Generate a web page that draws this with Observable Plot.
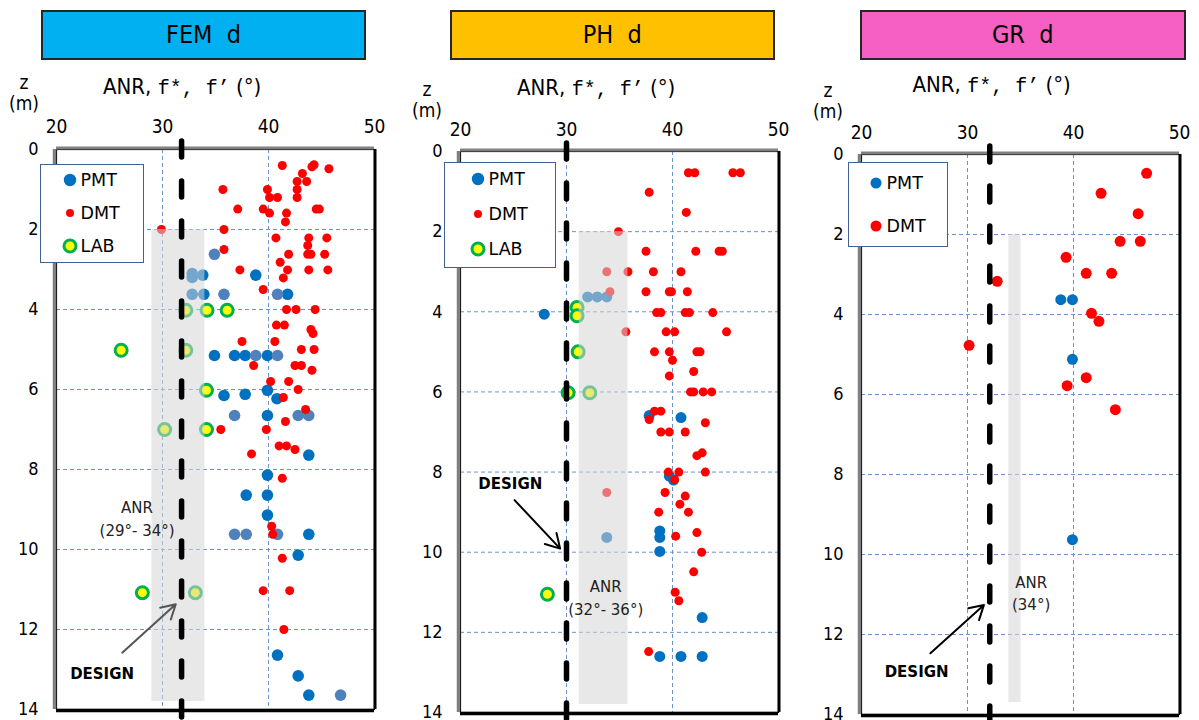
<!DOCTYPE html>
<html>
<head>
<meta charset="utf-8">
<script src="https://cdn.jsdelivr.net/npm/d3@7"></script>
<script src="https://cdn.jsdelivr.net/npm/@observablehq/plot@0.6"></script>
<style>
  html, body { margin: 0; padding: 0; background: #fff; }
  body { width: 1199px; height: 720px; overflow: hidden; position: relative;
         font-family: "DejaVu Sans Condensed", "DejaVu Sans", sans-serif; color: #000; }
  .title { position: absolute; box-sizing: border-box; border: 2px solid #262626;
           display: flex; align-items: center; justify-content: center;
           font-size: 25px; white-space: pre; }
  .xlab { position: absolute; font-size: 22px; line-height: 26px; white-space: pre; }
  .xlab .mono { font-family: "Liberation Mono", "DejaVu Sans Mono", monospace; font-size: 20px; }
  .zlab { position: absolute; width: 44px; text-align: center; font-size: 19px; line-height: 21px; }
  .legend { position: absolute; box-sizing: border-box; background: #fff;
            border: 1.5px solid #41618f; font-family: "DejaVu Sans", sans-serif; font-size: 17.5px; }
  .legend span { position: absolute; line-height: 22px; white-space: pre; }
  .legend svg { position: absolute; }
</style>
</head>
<body>
<script>
// ---------------- data ----------------
const xTicks = [20, 30, 40, 50];
const zTicks = [0, 2, 4, 6, 8, 10, 12, 14];
const xGrid = [30, 40];
const zGrid = [2, 4, 6, 8, 10, 12];

const panelNames = ["FEM  d", "PH  d", "GR  d"];
const xTitleParts = ["ANR, ", "f*, f’", " (°)"];
const zTitleLines = ["z", "(m)"];

const designPhi = [31.8, 30.0, 32.1];
const anrLow = [29.0, 31.2, 33.9];
const anrHigh = [34.0, 35.8, 35.05];
const anrTopZ = [2.0, 2.0, 2.0];
const anrBottomZ = [13.8, 13.8, 13.7];
const anrText = ["ANR\n(29°- 34°)", "ANR\n(32°- 36°)", "ANR\n(34°)"];
const anrTextX = [27.6, 33.7, 36.0];
const anrTextZ = [9.2, 11.1, 10.93];
const designText = "DESIGN";
const designTextX = [24.3, 24.7, 25.2];
const designTextZ = [13.12, 8.3, 12.94];
const arrowFromX = [26.2, 25.1, 26.5];
const arrowFromZ = [12.58, 8.7, 12.47];
const arrowToX = [31.25, 29.4, 31.55];
const arrowToZ = [11.37, 9.91, 11.26];
const legendNames = [["PMT", "DMT", "LAB"], ["PMT", "DMT", "LAB"], ["PMT", "DMT"]];

// FEM d  [phi (deg), z (m)]
const femPMT = [[32.8,3.1],[32.8,3.2],[33.8,3.14],[38.8,3.14],[32.8,3.62],[33.9,3.62],[41.8,3.62],
  [34.9,5.15],[36.8,5.15],[37.8,5.15],[39.9,5.15],[39.9,6.02],[35.8,6.15],[37.8,6.12],[40.8,6.23],
  [39.9,6.65],[43.8,7.64],[39.9,8.14],[37.9,8.64],[39.9,8.64],[39.9,9.14],[43.8,9.62],[42.8,10.14],
  [40.85,12.64],[42.8,13.16],[43.8,13.64]];
const femPMT2 = [[34.9,2.62],[35.8,3.62],[40.85,3.62],[38.8,5.15],[40.85,5.15],[36.8,6.65],[42.8,6.65],
  [43.8,6.65],[36.8,9.62],[37.9,9.62],[40.85,9.62],[46.8,13.64]];
const femDMT = [[41.3,0.40],[44.1,0.43],[44.3,0.38],[45.7,0.48],[43.2,0.60],[42.7,0.80],[43.6,0.80],
  [35.7,1.0],[39.9,1.0],[42.7,1.0],[40.1,1.2],[40.85,1.2],[42.7,1.2],[37.1,1.49],[39.5,1.49],[40.1,1.59],
  [41.7,1.59],[44.5,1.49],[44.8,1.49],[41.6,1.81],[29.9,2.0],[35.8,2.0],[40.7,2.21],[43.8,2.21],[45.5,2.21],
  [35.8,2.5],[43.7,2.40],[41.9,2.62],[43.7,2.62],[44.0,2.62],[45.3,2.62],[41.1,2.82],[37.3,3.01],[41.8,3.01],
  [43.8,3.01],[45.6,3.01],[41.4,3.21],[39.5,3.50],[41.7,4.0],[42.6,4.0],[44.4,4.0],[40.75,4.39],[41.5,4.39],
  [44.0,4.5],[44.2,4.6],[37.5,4.8],[40.6,4.8],[43.1,5.0],[44.3,5.0],[38.6,5.4],[42.5,5.4],[43.1,5.4],
  [44.1,5.52],[40.2,5.8],[41.9,5.8],[42.8,6.0],[41.4,6.2],[43.5,6.5],[41.6,6.8],[35.5,7.0],[39.8,7.0],
  [41.0,7.41],[41.7,7.41],[42.5,7.5],[38.4,7.61],[41.3,8.22],[40.3,9.42],[40.4,9.62],[41.3,10.22],
  [39.5,11.03],[42.0,11.03],[41.45,12.0]];
const femLAB = [[32.2,4.02],[34.2,4.02],[36.1,4.02],[26.1,5.02],[32.2,5.02],[34.15,6.02],[30.2,7.0],
  [34.15,7.0],[28.1,11.08],[33.1,11.08]];

// PH d
const phPMT = [[27.9,4.06],[32.0,3.63],[32.9,3.63],[33.8,3.63],[37.8,6.59],[40.8,6.64],[39.7,8.1],[40.1,8.2],
  [33.8,9.63],[38.8,9.47],[38.8,9.63],[38.8,9.98],[42.8,11.63],[38.8,12.6],[40.8,12.6],[42.8,12.6]];
const phDMT = [[41.5,0.53],[42.1,0.53],[45.7,0.53],[46.4,0.53],[37.8,1.02],[41.3,1.52],[34.9,2.0],
  [37.5,2.49],[42.2,2.49],[44.4,2.49],[44.7,2.49],[33.8,3.0],[35.8,3.0],[38.2,3.0],[40.8,3.0],[34.1,3.5],
  [37.5,3.5],[39.7,3.5],[39.9,3.5],[41.4,3.5],[38.5,4.02],[38.9,4.02],[41.2,4.02],[41.6,4.02],[43.8,4.02],
  [35.6,4.5],[39.4,4.5],[40.2,4.5],[45.1,4.5],[38.3,5.0],[39.7,5.0],[42.3,5.0],[42.6,5.0],[40.0,5.21],
  [42.0,5.49],[39.7,5.6],[41.7,6.0],[42.0,6.0],[42.9,6.0],[43.7,6.0],[38.3,6.48],[38.9,6.48],[37.8,6.69],
  [43.1,6.77],[38.9,7.0],[39.7,7.0],[41.2,7.0],[42.3,7.59],[42.8,7.52],[39.6,8.0],[40.6,8.0],[43.1,8.0],
  [40.2,8.19],[39.3,8.51],[41.2,8.6],[40.7,8.8],[41.5,9.0],[38.7,9.0],[33.8,8.51],[40.3,9.6],[42.3,9.51],
  [42.75,10.0],[42.0,10.49],[40.25,11.0],[40.6,11.21],[37.75,12.48]];
const phLAB = [[31.0,3.89],[31.0,4.1],[31.1,5.0],[30.15,6.02],[32.2,6.02],[28.2,11.05]];

// GR d
const grPMT = [[38.8,3.63],[39.9,3.63],[39.9,5.12],[39.9,9.63]];
const grDMT = [[46.9,0.47],[42.6,0.97],[46.1,1.48],[44.4,2.17],[46.3,2.17],[39.3,2.57],[41.2,2.97],
  [43.6,2.97],[32.8,3.17],[41.7,3.97],[42.4,4.17],[30.15,4.77],[41.2,5.58],[39.4,5.78],[43.95,6.38]];

// ---------------- layout & styles ----------------
const layout = [
  {left: 55.7, top: 149.3, h: 560, title: [41, 10, 325, 49.5], xLab: [103, 74], zLab: [24, 72],
   legend: [40, 164, 104, 99], legRows: [180, 213, 246], dotX: 70, textX: 81,
   r: {PMT: 5.8, PMT2: 5.8, DMT: 4.5, LAB: 6}, legR: {PMT: 6.2, DMT: 4, LAB: 6}, arrow: "#555"},
  {left: 459.5, top: 151, h: 561, title: [449.7, 10, 325.3, 49.5], xLab: [517, 75], zLab: [427, 79],
   legend: [444, 162, 112, 106], legRows: [179, 214, 249], dotX: 478, textX: 489,
   r: {PMT: 5.5, PMT2: 5.5, DMT: 4.5, LAB: 6}, legR: {PMT: 6.2, DMT: 4, LAB: 6}, arrow: "#000"},
  {left: 860.5, top: 154, h: 560, title: [859.7, 10, 326, 49.5], xLab: [912.5, 72], zLab: [828, 80],
   legend: [848, 162, 100, 85], legRows: [183, 226], dotX: 876, textX: 887,
   r: {PMT: 5.5, PMT2: 5.5, DMT: 5.5, LAB: 6}, legR: {PMT: 5.5, DMT: 5.5, LAB: 6}, arrow: "#000"}
];
const titleColors = ["#00b0f0", "#ffc000", "#f65fc3"];
const colors = {PMT: "#0070c0", PMT2: "#4f81bd", DMT: "#ff0000", LABfill: "#ffff00", LABstroke: "#00b050"};
const series = [
  {PMT: femPMT, PMT2: femPMT2, DMT: femDMT, LAB: femLAB},
  {PMT: phPMT, PMT2: [], DMT: phDMT, LAB: phLAB},
  {PMT: grPMT, PMT2: [], DMT: grDMT, LAB: []}
];

const rows = arr => arr.map(([x, z]) => ({x, z}));

function makePanel(i) {
  const L = layout[i];
  const S = series[i];
  const mL = 50, mR = 12, mT = 40, W = 318;
  const mB = Math.max(4, 720 - (L.top + L.h));
  const z0 = zTicks[0], z1 = zTicks[zTicks.length - 1];
  const x0 = xTicks[0], x1 = xTicks[xTicks.length - 1];
  const gridStyle = {stroke: "#6a93cc", strokeOpacity: 1, strokeWidth: 1, strokeDasharray: "4,3"};

  const chart = Plot.plot({
    width: mL + W + mR,
    height: mT + L.h + mB,
    marginLeft: mL, marginRight: mR, marginTop: mT, marginBottom: mB,
    style: {background: "transparent", fontFamily: "'DejaVu Sans Condensed', 'DejaVu Sans', sans-serif",
            fontSize: "18px", overflow: "visible", color: "#000"},
    x: {domain: [x0, x1]},
    y: {domain: [z0, z1], reverse: true},
    marks: [
      Plot.gridX(xGrid, gridStyle),
      Plot.gridY(zGrid, gridStyle),
      Plot.dot(rows(S.PMT), {x: "x", y: "z", r: L.r.PMT, fill: colors.PMT}),
      Plot.dot(rows(S.PMT2), {x: "x", y: "z", r: L.r.PMT2, fill: colors.PMT2}),
      Plot.dot(rows(S.DMT), {x: "x", y: "z", r: L.r.DMT, fill: colors.DMT}),
      Plot.dot(rows(S.LAB), {x: "x", y: "z", r: L.r.LAB, fill: colors.LABfill, stroke: colors.LABstroke, strokeWidth: 3}),
      Plot.rect([{lo: anrLow[i], hi: anrHigh[i], top: anrTopZ[i], bot: anrBottomZ[i]}],
        {x1: "lo", x2: "hi", y1: "top", y2: "bot", fill: "#d6d6d6", fillOpacity: 0.55}),
      // frame with shaded (gray) left/top and heavy right/bottom edges
      Plot.frame({stroke: "#000", strokeWidth: 1.2}),
      Plot.ruleX([x0], {stroke: "#808080", strokeWidth: 3.5, dx: -2}),
      Plot.ruleY([z0], {stroke: "#808080", strokeWidth: 3, dy: -1.5}),
      Plot.ruleX([x1], {stroke: "#000", strokeWidth: 3, dx: 0.5}),
      Plot.ruleY([z1], {stroke: "#000", strokeWidth: 3.5, dy: 1}),
      // design value
      Plot.ruleX([{x: designPhi[i], a: z0 - 0.2, b: z1 + 0.6}],
        {x: "x", y1: "a", y2: "b", stroke: "#000", strokeWidth: 5.5, strokeDasharray: "16,24", strokeLinecap: "round"}),
      Plot.axisX(xTicks, {anchor: "top", tickSize: 0, tickPadding: 16, fontSize: 19, label: null}),
      Plot.axisY(zTicks, {anchor: "left", tickSize: 0, tickPadding: 18, fontSize: 18, label: null}),
      Plot.text([{x: anrTextX[i], z: anrTextZ[i], t: anrText[i]}],
        {x: "x", y: "z", text: "t", fontSize: 15, lineHeight: 1.5, fontFamily: "'DejaVu Sans', sans-serif", fill: "#222"}),
      Plot.text([{x: designTextX[i], z: designTextZ[i], t: designText}],
        {x: "x", y: "z", text: "t", fontSize: 15, fontWeight: "bold", fontFamily: "'DejaVu Sans', sans-serif"}),
      Plot.arrow([{ax: arrowFromX[i], az: arrowFromZ[i], bx: arrowToX[i], bz: arrowToZ[i]}],
        {x1: "ax", y1: "az", x2: "bx", y2: "bz", stroke: L.arrow, strokeWidth: 2, headLength: 12})
    ]
  });
  Object.assign(chart.style, {position: "absolute", left: (L.left - mL) + "px", top: (L.top - mT) + "px"});
  document.body.appendChild(chart);

  // title box
  const t = document.createElement("div");
  t.className = "title";
  Object.assign(t.style, {left: L.title[0] + "px", top: L.title[1] + "px", width: L.title[2] + "px",
    height: L.title[3] + "px", background: titleColors[i]});
  t.textContent = panelNames[i];
  document.body.appendChild(t);

  // x title
  const xl = document.createElement("div");
  xl.className = "xlab";
  Object.assign(xl.style, {left: L.xLab[0] + "px", top: L.xLab[1] + "px"});
  xl.innerHTML = `<span>${xTitleParts[0]}</span><span class="mono">${xTitleParts[1]}</span><span>${xTitleParts[2]}</span>`;
  document.body.appendChild(xl);

  // z title
  const zl = document.createElement("div");
  zl.className = "zlab";
  Object.assign(zl.style, {left: (L.zLab[0] - 22) + "px", top: L.zLab[1] + "px"});
  zl.innerHTML = zTitleLines.join("<br>");
  document.body.appendChild(zl);

  // legend
  const lg = document.createElement("div");
  lg.className = "legend";
  Object.assign(lg.style, {left: L.legend[0] + "px", top: L.legend[1] + "px",
    width: L.legend[2] + "px", height: L.legend[3] + "px"});
  legendNames[i].forEach((name, k) => {
    const y = L.legRows[k] - L.legend[1] - 1.5;
    const cx = L.dotX - L.legend[0] - 1.5;
    const r = L.legR[name];
    const fill = name === "LAB" ? colors.LABfill : colors[name];
    const stroke = name === "LAB" ? colors.LABstroke : "none";
    const sw = name === "LAB" ? 3 : 0;
    lg.insertAdjacentHTML("beforeend",
      `<svg width="20" height="20" style="left:${cx - 10}px;top:${y - 10}px"><circle cx="10" cy="10" r="${r}" fill="${fill}" stroke="${stroke}" stroke-width="${sw}"/></svg>` +
      `<span style="left:${L.textX - L.legend[0] - 1.5}px;top:${y - 11}px">${name}</span>`);
  });
  document.body.appendChild(lg);
}

[0, 1, 2].forEach(makePanel);
</script>
</body>
</html>
